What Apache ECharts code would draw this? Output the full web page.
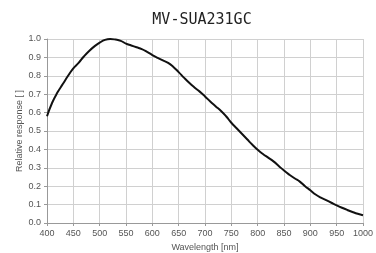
<!DOCTYPE html>
<html>
<head>
<meta charset="utf-8">
<script src="https://cdn.jsdelivr.net/npm/echarts@6/dist/echarts.min.js"></script>
<style>
  html, body { margin: 0; padding: 0; background: #fff; }
  #chart { width: 376px; height: 253px; }
</style>
</head>
<body>
<div id="chart"></div>
<script>
// wavelength [nm], sampled every 10 nm
const wavelengths = [
  400, 410, 420, 430, 440, 450, 460, 470, 480, 490,
  500, 510, 520, 530, 540, 550, 560, 570, 580, 590,
  600, 610, 620, 630, 640, 650, 660, 670, 680, 690,
  700, 710, 720, 730, 740, 750, 760, 770, 780, 790,
  800, 810, 820, 830, 840, 850, 860, 870, 880, 890,
  900, 910, 920, 930, 940, 950, 960, 970, 980, 990, 1000
];
// relative response
const response = [
  0.58, 0.655, 0.71, 0.755, 0.80, 0.84, 0.87, 0.905, 0.935, 0.96,
  0.98, 0.995, 1.0, 0.997, 0.99, 0.975, 0.965, 0.955, 0.945, 0.93,
  0.913, 0.898, 0.884, 0.87, 0.848, 0.82, 0.79, 0.762, 0.737, 0.714,
  0.688, 0.66, 0.635, 0.61, 0.58, 0.545, 0.515, 0.485, 0.455, 0.425,
  0.398, 0.375, 0.355, 0.335, 0.31, 0.285, 0.263, 0.243, 0.225, 0.2,
  0.178, 0.155, 0.138, 0.124, 0.11, 0.096, 0.083, 0.071, 0.06, 0.05, 0.042
];

const chart = echarts.init(document.getElementById('chart'));
chart.setOption({
  animation: false,
  title: {
    text: 'MV-SUA231GC',
    left: 197,
    top: 8,
    textAlign: 'center',
    textStyle: { fontFamily: 'DejaVu Sans Mono', fontSize: 15, fontWeight: 'normal', color: '#222' }
  },
  grid: { left: 47, right: 13, top: 39, bottom: 30, containLabel: false, outerBoundsMode: 'none' },
  xAxis: {
    type: 'value',
    min: 400, max: 1000, interval: 50,
    name: 'Wavelength [nm]',
    nameLocation: 'middle',
    nameGap: 18,
    nameTextStyle: { fontFamily: 'Liberation Sans', fontSize: 9, color: '#555' },
    axisLine: { lineStyle: { color: '#999' } },
    axisTick: { show: true, length: 3, lineStyle: { color: '#999' } },
    axisLabel: { fontFamily: 'Liberation Sans', fontSize: 9, color: '#555', margin: 6,
      formatter: v => String(v) },
    splitLine: { show: true, lineStyle: { color: '#d0d0d0' } }
  },
  yAxis: {
    type: 'value',
    min: 0, max: 1, interval: 0.1,
    name: 'Relative response [ ]',
    nameLocation: 'middle',
    nameGap: 23,
    nameMoveOverlap: false,
    nameTextStyle: { fontFamily: 'Liberation Sans', fontSize: 9, color: '#555' },
    axisLine: { show: true, lineStyle: { color: '#999' } },
    axisTick: { show: true, length: 3, lineStyle: { color: '#999' } },
    axisLabel: { fontFamily: 'Liberation Sans', fontSize: 9, color: '#555', margin: 6,
      formatter: v => v.toFixed(1) },
    splitLine: { show: true, lineStyle: { color: '#d0d0d0' } }
  },
  series: [{
    type: 'line',
    data: wavelengths.map((w, i) => [w, response[i]]),
    smooth: true,
    showSymbol: false,
    lineStyle: { color: '#111', width: 2 }
  }]
});
</script>
</body>
</html>
